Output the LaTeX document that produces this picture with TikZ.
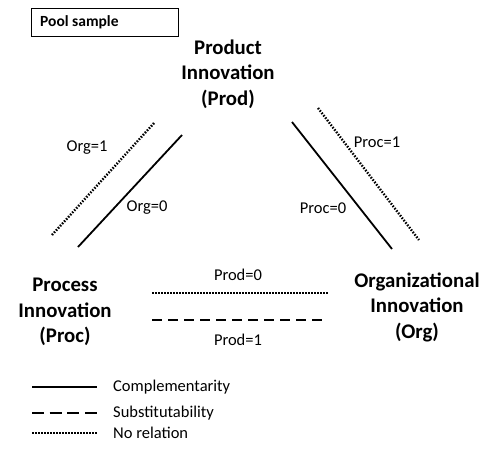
\documentclass[tikz,border=0pt]{standalone}
\usepackage{fontspec}
\setmainfont{Carlito}
\begin{document}
\begin{tikzpicture}[x=1pt,y=-1pt,
  title/.style={font=\fontsize{20.8}{25.5}\selectfont\bfseries, align=center, inner sep=0pt},
  lbl/.style={font=\fontsize{16.5}{19}\selectfont, inner sep=0pt},
  compl/.style={line width=1.8pt},
  subst/.style={line width=1.8pt, dash pattern=on 10pt off 6pt},
  norel/.style={line width=2.4pt, dash pattern=on 1.5pt off 1.5pt}]
\useasboundingbox[fill=white] (0,0) rectangle (481,450);
% pool sample box
\node[draw, line width=0.8pt, minimum width=147pt, minimum height=28pt, inner sep=0pt] (pool) at (104.5,22) {};
\node[font=\fontsize{15.5}{18}\selectfont\bfseries, anchor=west, inner sep=0pt] (pooltxt) at (40,22) {Pool sample};
% titles
\node[title] (prod) at (228,74) {Product\\Innovation\\(Prod)};
\node[title] (proc) at (65,312) {Process\\Innovation\\(Proc)};
\node[title] (org) at (417,307) {Organizational\\Innovation\\(Org)};
% left pair
\coordinate (ld1) at (52,235); \coordinate (ld2) at (155,122);
\coordinate (ls1) at (78,247); \coordinate (ls2) at (182,135);
\draw[norel] (ld1) -- (ld2);
\draw[compl] (ls1) -- (ls2);
\node[lbl] (org1) at (87,148) {Org=1};
\node[lbl] (org0) at (147,208) {Org=0};
% right pair
\coordinate (rs1) at (292,122); \coordinate (rs2) at (392,249);
\coordinate (rd1) at (318,108); \coordinate (rd2) at (419,240);
\draw[compl] (rs1) -- (rs2);
\draw[norel] (rd1) -- (rd2);
\node[lbl] (proc1) at (377,142) {Proc=1};
\node[lbl] (proc0) at (323,208) {Proc=0};
% bottom pair
\coordinate (bd1) at (152,293); \coordinate (bd2) at (328,293);
\coordinate (bs1) at (152,320); \coordinate (bs2) at (326,320);
\draw[norel] (bd1) -- (bd2);
\draw[subst] (bs1) -- (bs2);
\node[lbl] (prod0) at (238,275) {Prod=0};
\node[lbl] (prod1) at (238,340) {Prod=1};
% legend
\coordinate (g1a) at (32,387); \coordinate (g1b) at (97,387);
\coordinate (g2a) at (32,413); \coordinate (g2b) at (97,413);
\coordinate (g3a) at (32,433); \coordinate (g3b) at (97,433);
\draw[compl] (g1a) -- (g1b);
\draw[line width=1.8pt, dash pattern=on 12pt off 5.7pt] (g2a) -- (g2b);
\draw[norel] (g3a) -- (g3b);
\node[lbl, anchor=west] (lc) at (113,387) {Complementarity};
\node[lbl, anchor=west] (ls) at (113,413) {Substitutability};
\node[lbl, anchor=west] (ln) at (113,433) {No relation};
\end{tikzpicture}
\end{document}
